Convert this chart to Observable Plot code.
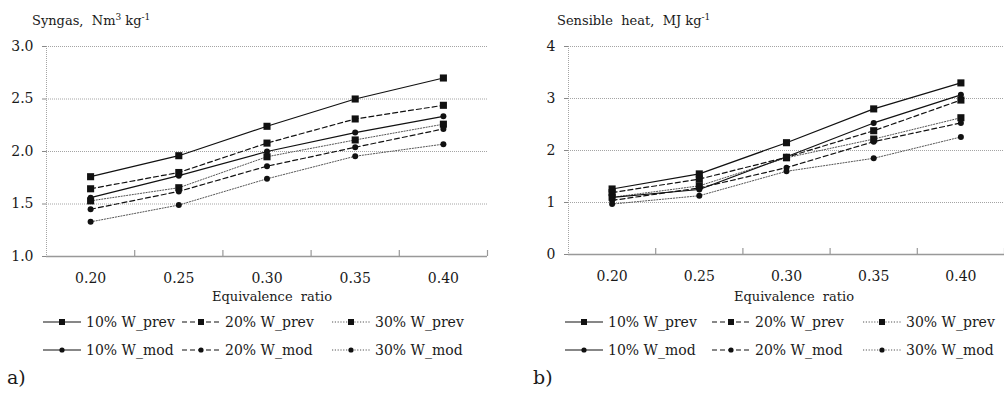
<!DOCTYPE html>
<html><head><meta charset="utf-8">
<script src="https://cdn.jsdelivr.net/npm/d3@7"></script>
<script src="https://cdn.jsdelivr.net/npm/@observablehq/plot@0.6"></script>
<style>
body{margin:0;background:#fff;}
#root{position:relative;width:1004px;height:399px;overflow:hidden;font-family:"DejaVu Serif",serif;color:#1a1a1a;}
.panel{position:absolute;top:0;}
.txt{position:absolute;white-space:nowrap;line-height:1;}
.title{font-size:13px;}
.title sup{font-size:9px;vertical-align:5px;line-height:0;}
.xlab{font-size:13px;transform:translateX(-50%);}
.leg{position:absolute;display:flex;align-items:center;white-space:nowrap;font-size:14px;height:22px;}
.leg svg{margin-right:5px;overflow:visible;}
.tag{font-size:19px;}
</style></head>
<body><div id="root"></div>
<script>
// ---- data ----
const ratios = [0.20, 0.25, 0.30, 0.35, 0.40];
const seriesNames = ["10% W_prev", "20% W_prev", "30% W_prev", "10% W_mod", "20% W_mod", "30% W_mod"];
const syngas10Prev = [1.76, 1.96, 2.24, 2.50, 2.70];
const syngas20Prev = [1.645, 1.80, 2.08, 2.31, 2.44];
const syngas30Prev = [1.53, 1.655, 1.95, 2.11, 2.26];
const syngas10Mod = [1.56, 1.77, 2.00, 2.18, 2.335];
const syngas20Mod = [1.45, 1.62, 1.86, 2.04, 2.215];
const syngas30Mod = [1.33, 1.49, 1.74, 1.955, 2.07];
const heat10Prev = [1.26, 1.55, 2.15, 2.80, 3.30];
const heat20Prev = [1.19, 1.45, 1.87, 2.38, 2.97];
const heat30Prev = [1.10, 1.32, 1.86, 2.22, 2.63];
const heat10Mod = [1.10, 1.25, 1.88, 2.53, 3.07];
const heat20Mod = [1.04, 1.28, 1.67, 2.17, 2.53];
const heat30Mod = [0.97, 1.13, 1.60, 1.85, 2.26];
const syngasTicks = [1.0, 1.5, 2.0, 2.5, 3.0];
const heatTicks = [0, 1, 2, 3, 4];
const xBounds = [0.175, 0.225, 0.275, 0.325, 0.375, 0.425];

// ---- styles ----
const FONT = '"DejaVu Serif",serif';
const styles = [
  {dash: null, stroke: "#111", w: 1.2, sym: "square"},
  {dash: "5,3", stroke: "#111", w: 1.2, sym: "square"},
  {dash: "1.2,1.6", stroke: "#555", w: 1, sym: "square"},
  {dash: null, stroke: "#111", w: 1.2, sym: "circle"},
  {dash: "5,3", stroke: "#111", w: 1.2, sym: "circle"},
  {dash: "1.2,1.6", stroke: "#555", w: 1, sym: "circle"}
];

function rows(arrs) {
  return arrs.map((vals, i) => vals.map((v, j) => ({series: seriesNames[i], x: ratios[j], y: v, i})));
}

function panel({arrs, ticks, width, marginLeft, marginRight, marginBottom, left, fmt}) {
  const data = rows(arrs);
  const height = 306, marginTop = 46;
  const ymin = ticks[0], ymax = ticks[ticks.length - 1];
  const tickLen = 6 * (ymax - ymin) / (height - marginTop - marginBottom);
  const marks = [
    Plot.ruleY(ticks.slice(1), {stroke: "#9a9a9a", strokeWidth: 0.9, strokeDasharray: "1,1"}),
    Plot.ruleX([xBounds[0]], {stroke: "#9a9a9a", strokeWidth: 0.9, strokeDasharray: "1,1"}),
    Plot.axisY({ticks, tickSize: 4, tickPadding: 9, tickFormat: fmt, stroke: "#888", fontSize: 14, fill: "#1a1a1a", label: null}),
    Plot.ruleX(xBounds.slice(1), {y1: ymin, y2: ymin + tickLen, stroke: "#999", strokeWidth: 1.2}),
    Plot.axisX({ticks: ratios, tickSize: 0, tickPadding: 17, tickFormat: d3.format(".2f"), fontSize: 14, fill: "#1a1a1a", label: null}),
    Plot.ruleY([ymin], {stroke: "#999", strokeWidth: 1.6})
  ];
  data.forEach((d, i) => {
    const s = styles[i];
    marks.push(Plot.line(d, {x: "x", y: "y", stroke: s.stroke, strokeWidth: s.w, strokeDasharray: s.dash}));
  });
  data.forEach((d, i) => {
    const s = styles[i];
    marks.push(Plot.dot(d, {x: "x", y: "y", symbol: s.sym, r: s.sym === "square" ? 4 : 3, fill: "#111", stroke: "none"}));
  });
  const svg = Plot.plot({
    width, height, marginTop, marginBottom, marginLeft, marginRight,
    style: {fontFamily: FONT, background: "transparent", overflow: "visible"},
    x: {domain: [xBounds[0], xBounds[5]], axis: null},
    y: {domain: [ymin, ymax], axis: null},
    marks
  });
  svg.classList.add("panel");
  svg.style.left = left + "px";
  return svg;
}

const root = document.getElementById("root");
root.appendChild(panel({arrs: [syngas10Prev, syngas20Prev, syngas30Prev, syngas10Mod, syngas20Mod, syngas30Mod],
  ticks: syngasTicks, width: 500, marginLeft: 46, marginRight: 13, marginBottom: 50, left: 0, fmt: d3.format(".1f")}));
root.appendChild(panel({arrs: [heat10Prev, heat20Prev, heat30Prev, heat10Mod, heat20Mod, heat30Mod],
  ticks: heatTicks, width: 504, marginLeft: 68, marginRight: 0, marginBottom: 52, left: 500, fmt: d3.format("d")}));

function addText(html, cls, x, y) {
  const d = document.createElement("div");
  d.className = "txt " + cls;
  d.innerHTML = html;
  d.style.left = x + "px"; d.style.top = y + "px";
  root.appendChild(d);
}
addText("Syngas,&nbsp; Nm<sup>3</sup> kg<sup>-1</sup>", "title", 32, 14);
addText("Sensible&nbsp; heat,&nbsp; MJ kg<sup>-1</sup>", "title", 557, 14);
addText("Equivalence&nbsp; ratio", "xlab", 272, 290);
addText("Equivalence&nbsp; ratio", "xlab", 794, 290);
addText("a)", "tag", 7, 368);
addText("b)", "tag", 533, 368);

function legend(cols, rowYs) {
  seriesNames.forEach((name, i) => {
    const s = styles[i];
    const d = document.createElement("div");
    d.className = "leg";
    d.style.left = cols[i % 3] + "px";
    d.style.top = (rowYs[Math.floor(i / 3)] - 11) + "px";
    const marker = s.sym === "square"
      ? '<rect x="16" y="8" width="6" height="6" fill="#111"/>'
      : '<circle cx="19" cy="11" r="2.6" fill="#111"/>';
    d.innerHTML = `<svg width="38" height="22"><line x1="0" x2="38" y1="11" y2="11" stroke="${s.stroke}" stroke-width="${s.w}" ${s.dash ? `stroke-dasharray="${s.dash}"` : ""}/>${marker}</svg><span>${name}</span>`;
    root.appendChild(d);
  });
}
legend([43, 182, 332], [322, 350]);
legend([565, 712, 863], [322, 350]);
</script>
</body></html>
